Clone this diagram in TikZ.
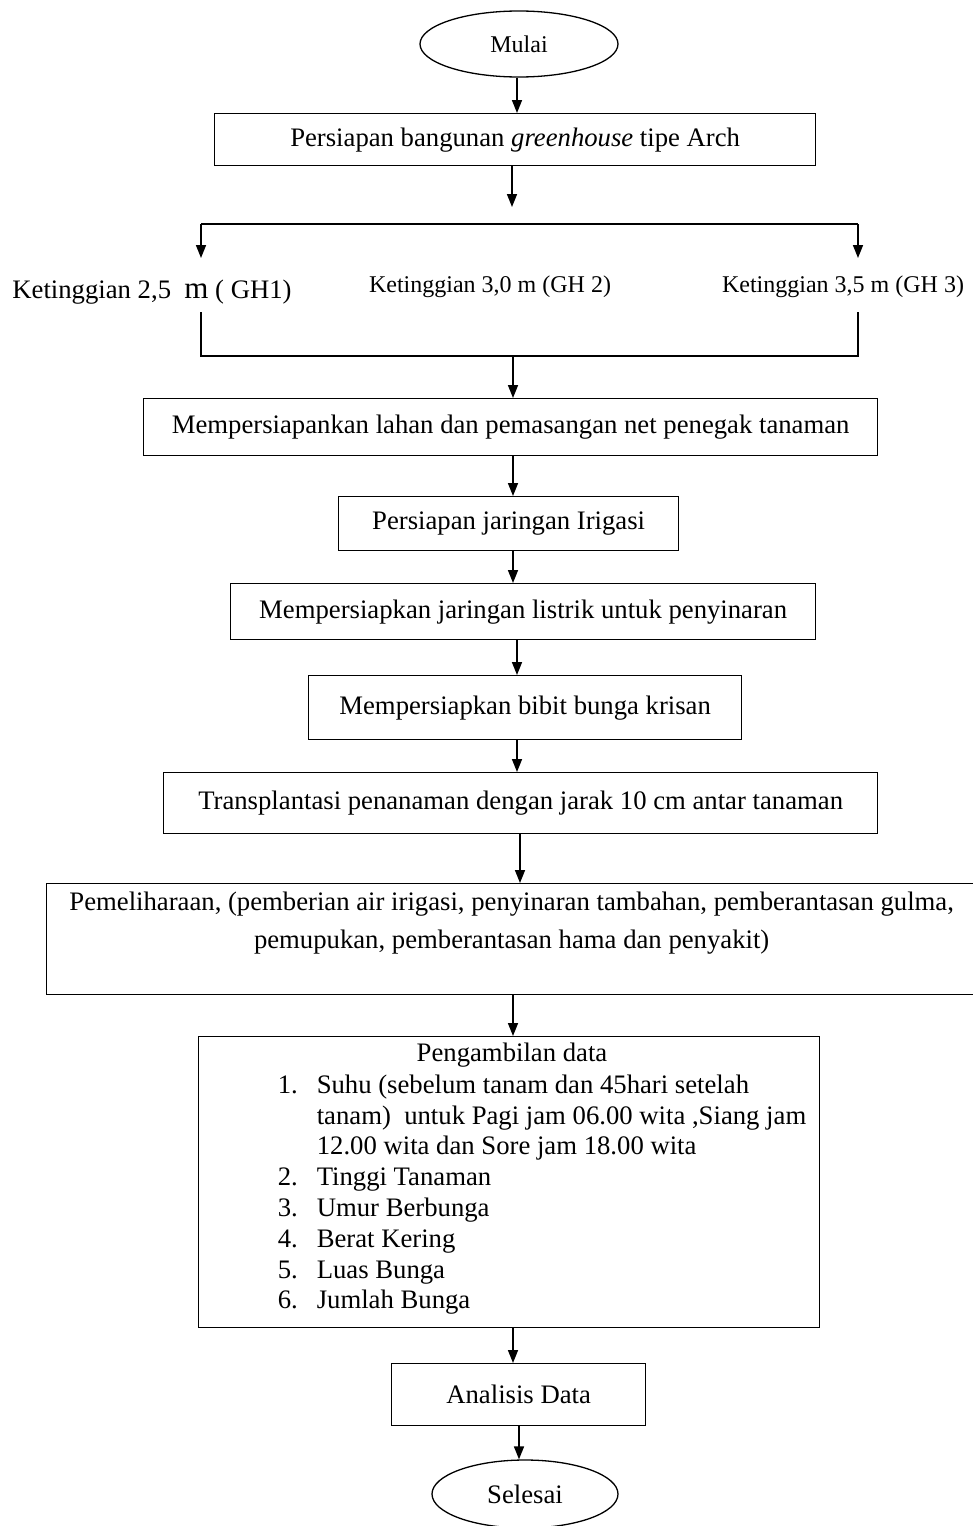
\documentclass[tikz,border=0pt]{standalone}
\usepackage{fontspec}
\setmainfont{Liberation Serif}
\usetikzlibrary{arrows.meta,shapes.geometric}

\tikzset{
  flowbox/.style={draw, rectangle, line width=1.3pt, align=center, inner sep=0pt},
  termbox/.style={draw, ellipse, line width=1.3pt, inner sep=0pt},
  ghlabel/.style={font=\fontsize{24}{28}\selectfont, inner sep=0pt, anchor=base},
}

\begin{document}
\begin{tikzpicture}[x=1pt,y=-1pt,font=\fontsize{26.7}{30.8}\selectfont]
\useasboundingbox (0,0) rectangle (973,1526);
\begin{scope}[>={Triangle[length=13pt,width=10pt]},line width=1.6pt]

    \node[termbox,minimum width=198,minimum height=66,font=\fontsize{24}{28}\selectfont] (mulai) at (519,44) {Mulai};
    \node[flowbox,minimum width=601,minimum height=52,anchor=north west] (bangunan) at (214,113)
        {Persiapan bangunan \textit{greenhouse} tipe Arch};

    % cabang ketinggian
    \coordinate (split) at (512,207);
    \coordinate (gh1top) at (201,224);
    \coordinate (gh3top) at (858,224);
    \coordinate (gh1end) at (201,258);
    \coordinate (gh3end) at (858,258);
    \node[ghlabel,font=\fontsize{26.7}{30}\selectfont] (gh1) at (152,298)
        {Ketinggian 2,5\ \ {\fontsize{31}{31}\selectfont m} ( GH1)};
    \node[ghlabel] (gh2) at (490,292) {Ketinggian 3,0 m (GH 2)};
    \node[ghlabel] (gh3) at (843,292) {Ketinggian 3,5 m (GH 3)};
    \coordinate (gh1bot) at (201,312);
    \coordinate (gh3bot) at (858,312);
    \coordinate (mergel) at (201,356);
    \coordinate (merger) at (858,356);
    \coordinate (merge) at (513,356);

    \node[flowbox,minimum width=734,minimum height=57,anchor=north west] (lahan) at (143,398)
        {Mempersiapankan lahan dan pemasangan net penegak tanaman};
    \node[flowbox,minimum width=340,minimum height=54,anchor=north west] (irigasi) at (338,496)
        {Persiapan jaringan Irigasi};
    \node[flowbox,minimum width=585,minimum height=56,anchor=north west] (listrik) at (230,583)
        {Mempersiapkan jaringan listrik untuk penyinaran};
    \node[flowbox,minimum width=433,minimum height=64,anchor=north west] (bibit) at (308,675)
        {Mempersiapkan bibit bunga krisan};
    \node[flowbox,minimum width=714,minimum height=61,anchor=north west] (tanam) at (163,772)
        {Transplantasi penanaman dengan jarak 10 cm antar tanaman};
    \node[flowbox,minimum width=930,minimum height=111,anchor=north west,
          font=\fontsize{26.7}{38}\selectfont] (pelihara) at (46,883)
        {Pemeliharaan, (pemberian air irigasi, penyinaran tambahan, pemberantasan gulma,\\
         pemupukan, pemberantasan hama dan penyakit)\\ \mbox{}};

    % pengambilan data
    \node[flowbox,minimum width=621,minimum height=291,anchor=north west] (data) at (198,1036) {};
    \node[inner sep=0pt] (datatitle) at (512,1055) {Pengambilan data};
    \node[inner sep=0pt,anchor=north west] (datalist) at (277,1071) {%
      \begin{tabular}{@{}p{39pt}@{}l@{}}
      1. & Suhu (sebelum tanam dan 45hari setelah\\
         & tanam)\ \ untuk Pagi jam 06.00 wita ,Siang jam\\
         & 12.00 wita dan Sore jam 18.00 wita\\
      2. & Tinggi Tanaman\\
      3. & Umur Berbunga\\
      4. & Berat Kering\\
      5. & Luas Bunga\\
      6. & Jumlah Bunga
      \end{tabular}};

    \node[flowbox,minimum width=254,minimum height=62,anchor=north west] (analisis) at (391,1363) {Analisis Data};
    \node[termbox,minimum width=186,minimum height=68] (selesai) at (525,1494) {Selesai};

    % panah
    \draw[->] (mulai.south -| 517,0) -- (517,0 |- bangunan.north);
    \draw[->] (split |- bangunan.south) -- (split);
    \draw (gh1top) -- (gh3top);
    \draw[->] (gh1top) -- (gh1end);
    \draw[->] (gh3top) -- (gh3end);
    \draw[line width=1.2pt] (gh1bot) -- (mergel) -- (merger) -- (gh3bot);
    \draw[->] (merge) -- (merge |- lahan.north);
    \draw[->] (513,0 |- lahan.south) -- (513,0 |- irigasi.north);
    \draw[->] (513,0 |- irigasi.south) -- (513,0 |- listrik.north);
    \draw[->] (517,0 |- listrik.south) -- (517,0 |- bibit.north);
    \draw[->] (517,0 |- bibit.south) -- (517,0 |- tanam.north);
    \draw[->] (520,0 |- tanam.south) -- (520,0 |- pelihara.north);
    \draw[->] (513,0 |- pelihara.south) -- (513,0 |- data.north);
    \draw[->] (513,0 |- data.south) -- (513,0 |- analisis.north);
    \draw[->] (519,0 |- analisis.south) -- (519,0 |- selesai.north);
\end{scope}
\end{tikzpicture}
\end{document}
